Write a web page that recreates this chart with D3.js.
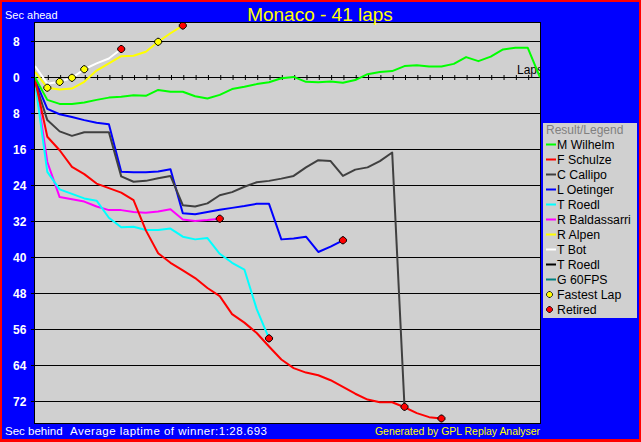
<!DOCTYPE html>
<html>
<head>
<meta charset="utf-8">
<script src="https://cdn.jsdelivr.net/npm/d3@7"></script>
<style>
  html, body { margin: 0; padding: 0; background: #ff0000; overflow: hidden; }
  svg { display: block; font-family: "Liberation Sans", Arial, sans-serif; }
</style>
</head>
<body>
<div id="contents"></div>
<script>
// seconds ahead (+) / behind (-) of the winner's average pace, index = lap (0 = start)
var drivers     = ['M Wilhelm', 'F Schulze', 'C Callipo', 'L Oetinger', 'T Roedl', 'R Baldassarri', 'R Alpen', 'T Bot', 'T Roedl', 'G 60FPS'];
var wilhelm     = [0, -5.0, -5.9, -5.9, -5.6, -5.0, -4.5, -4.3, -4.0, -4.1, -2.8, -3.2, -3.2, -4.2, -4.7, -3.9, -2.6, -2.1, -1.5, -1.1, -0.2, 0.1, -1.0, -1.1, -0.9, -1.2, -0.6, 0.7, 1.2, 1.4, 2.5, 2.7, 2.4, 2.4, 3.0, 4.5, 3.6, 4.6, 6.2, 6.6, 6.6, 0];
var schulze     = [-0.5, -13.2, -16.2, -19.9, -21.5, -23.6, -24.6, -25.6, -27.3, -34.0, -39.1, -41.2, -42.9, -44.6, -46.8, -48.6, -52.6, -54.5, -56.8, -59.8, -62.7, -64.6, -65.6, -66.2, -67.3, -68.8, -70.3, -71.6, -72.2, -72.2, -73.3, -74.6, -75.5, -75.8];
var callipo     = [-1, -9.5, -12.0, -13.0, -12.2, -12.2, -12.2, -22.0, -23.2, -23.0, -22.4, -21.9, -28.4, -28.7, -28.0, -26.2, -25.5, -24.3, -23.3, -23.0, -22.5, -21.9, -20.0, -18.4, -18.6, -21.9, -20.5, -20.0, -18.6, -16.7, -73.2];
var oetinger    = [-0.5, -7.0, -8.2, -8.8, -9.5, -10.1, -10.4, -21.0, -21.1, -21.1, -20.9, -20.4, -30.2, -30.4, -29.9, -29.4, -29.0, -28.6, -28.1, -28.1, -36.0, -35.8, -35.4, -38.8, -37.6, -36.2];
var roedl       = [-1, -21.0, -24.9, -25.9, -26.9, -27.4, -31.2, -33.3, -33.2, -33.9, -33.9, -33.6, -35.4, -36.0, -35.7, -39.2, -41.2, -42.7, -51.5, -58.0];
var baldassarri = [-0.5, -18.8, -26.6, -27.1, -27.6, -28.7, -29.5, -29.5, -29.9, -30.1, -29.8, -29.3, -31.6, -31.9, -31.7, -31.4];
var alpen       = [1.2, -2.3, -2.7, -2.5, -1.0, 1.5, 3.1, 4.7, 4.8, 5.7, 7.9, 9.8, 11.5];
var bot         = [2.5, -1.4, -1.0, -0.1, 1.8, 3.1, 4.2, 6.3];
var roedl2      = [];
var fps60       = [];
var series      = [wilhelm, schulze, callipo, oetinger, roedl, baldassarri, alpen, bot, roedl2, fps60];
var retired     = [false, true, true, true, true, true, true, true, false, false];
var fastestWho  = [6, 7, 7, 7, 6];
var fastestLap  = [1, 2, 3, 4, 10];
var yTicks      = [8, 0, -8, -16, -24, -32, -40, -48, -56, -64, -72];
var totalLaps   = 41;

var colors = ['#00ff00', '#ff0000', '#404040', '#0000ff', '#00ffff', '#ff00ff', '#ffff00', '#ffffff', '#000000', '#008080'];

window.onload = function(){
    'use strict';
    var W = 641, H = 442;
    var PL = 34, PR = 540, PT = 22, PB = 423;

    var svg = d3.select('#contents').append('svg').attr('width', W).attr('height', H);

    // frame
    svg.append('rect').attr('width', W).attr('height', H).attr('fill', '#ff0000');
    svg.append('rect').attr('x', 2).attr('y', 2).attr('width', W - 4).attr('height', H - 5).attr('fill', '#0000ff');

    var x = d3.scaleLinear().domain([0, totalLaps]).range([PL + 1, PR]);
    var y = d3.scaleLinear().domain([12.3, -76.8]).range([PT, PB]);

    // plot area
    svg.append('rect')
        .attr('x', PL + 0.5).attr('y', PT + 0.5)
        .attr('width', PR - PL).attr('height', PB - PT)
        .attr('fill', '#d0d0d0').attr('stroke', '#000').attr('stroke-width', 1);

    svg.append('defs').append('clipPath').attr('id', 'plotclip')
        .append('rect').attr('x', PL + 1).attr('y', PT + 1).attr('width', PR - PL - 1).attr('height', PB - PT - 1);

    // grid lines + little ticks to the left
    svg.append('g')
        .selectAll('line')
        .data(yTicks)
        .enter()
        .append('line')
        .attr('x1', PL - 3).attr('x2', PR)
        .attr('y1', function(d){ return Math.round(y(d)) + 0.5; })
        .attr('y2', function(d){ return Math.round(y(d)) + 0.5; })
        .attr('stroke', '#000').attr('stroke-width', 1);

    svg.append('g')
        .selectAll('text')
        .data(yTicks)
        .enter()
        .append('text')
        .attr('x', 13)
        .attr('y', function(d){ return Math.round(y(d)) + 5; })
        .attr('fill', '#fff')
        .attr('font-size', 12)
        .attr('font-weight', 'bold')
        .text(function(d){ return Math.abs(d); });

    // lap ticks on the zero line
    var xAxis = d3.axisBottom(x).tickValues(d3.range(1, totalLaps)).tickSize(5).tickFormat('');
    var gx = svg.append('g')
        .attr('transform', 'translate(0.5,' + (Math.round(y(0)) - 2) + ')')
        .call(xAxis);
    gx.select('.domain').remove();
    gx.selectAll('line').attr('stroke', '#000');

    var plot = svg.append('g').attr('clip-path', 'url(#plotclip)');

    plot.append('text')
        .attr('x', 517).attr('y', Math.round(y(0)) - 3)
        .attr('font-size', 12).attr('fill', '#000')
        .text('Laps');

    var line = d3.line()
        .x(function(d, i){ return x(i); })
        .y(function(d){ return y(d); });

    var order = [7, 6, 5, 4, 3, 2, 1, 0];
    plot.append('g')
        .selectAll('path')
        .data(order)
        .enter()
        .append('path')
        .attr('d', function(k){ return line(series[k]); })
        .attr('fill', 'none')
        .attr('stroke', function(k){ return colors[k]; })
        .attr('stroke-width', 2)
        .attr('stroke-linejoin', 'round');

    var marker = 'M-1,-3.5L1,-3.5L3.5,-1L3.5,1L1,3.5L-1,3.5L-3.5,1L-3.5,-1Z';

    // fastest laps
    plot.append('g')
        .selectAll('path')
        .data(fastestLap)
        .enter()
        .append('path')
        .attr('d', marker)
        .attr('transform', function(d, i){
            return 'translate(' + x(d) + ',' + y(series[fastestWho[i]][d]) + ')';
        })
        .attr('fill', '#ffff00').attr('stroke', '#000').attr('stroke-width', 1);

    // retirements
    var ret = d3.range(series.length).filter(function(k){ return retired[k]; });
    plot.append('g')
        .selectAll('path')
        .data(ret)
        .enter()
        .append('path')
        .attr('d', marker)
        .attr('transform', function(k){
            var s = series[k];
            return 'translate(' + x(s.length - 1) + ',' + y(s[s.length - 1]) + ')';
        })
        .attr('fill', '#ff0000').attr('stroke', '#000').attr('stroke-width', 1);

    // texts
    svg.append('text').attr('x', 320).attr('y', 20.5).attr('text-anchor', 'middle')
        .attr('font-size', 19).attr('fill', '#ffff00').text('Monaco - 41 laps');
    svg.append('text').attr('x', 5).attr('y', 19)
        .attr('font-size', 11).attr('fill', '#fff').text('Sec ahead');
    svg.append('text').attr('x', 5).attr('y', 435)
        .attr('font-size', 11.5).attr('fill', '#fff').text('Sec behind');
    svg.append('text').attr('x', 70).attr('y', 435)
        .attr('font-size', 11.5).attr('fill', '#fff')
        .attr('textLength', 197).attr('lengthAdjust', 'spacing')
        .text('Average laptime of winner:1:28.693');
    svg.append('text').attr('x', 375).attr('y', 435)
        .attr('font-size', 11).attr('fill', '#ffff00')
        .attr('textLength', 165).attr('lengthAdjust', 'spacingAndGlyphs')
        .text('Generated by GPL Replay Analyser');

    // legend
    var lg = svg.append('g');
    lg.append('rect').attr('x', 543).attr('y', 123).attr('width', 94).attr('height', 195).attr('fill', '#d0d0d0');
    lg.append('text').attr('x', 546).attr('y', 134).attr('font-size', 12).attr('fill', '#808080').text('Result/Legend');

    var rowY = function(i){ return 144.5 + i * 15; };
    var rows = lg.selectAll('.row')
        .data(drivers)
        .enter()
        .append('g');
    rows.append('line')
        .attr('x1', 546).attr('x2', 556)
        .attr('y1', function(d, i){ return rowY(i); })
        .attr('y2', function(d, i){ return rowY(i); })
        .attr('stroke', function(d, i){ return colors[i]; })
        .attr('stroke-width', 2);
    rows.append('text')
        .attr('x', 557)
        .attr('y', function(d, i){ return rowY(i) + 4.5; })
        .attr('font-size', 12.3).attr('fill', '#000')
        .text(function(d){ return d; });

    var extra = [['Fastest Lap', '#ffff00'], ['Retired', '#ff0000']];
    extra.forEach(function(e, j){
        var yy = rowY(drivers.length + j);
        lg.append('path').attr('d', marker)
            .attr('transform', 'translate(549.5,' + yy + ') scale(0.85)')
            .attr('fill', e[1]).attr('stroke', '#000').attr('stroke-width', 1);
        lg.append('text').attr('x', 557).attr('y', yy + 4.5)
            .attr('font-size', 12.3).attr('fill', '#000').text(e[0]);
    });
};
</script>
</body>
</html>
